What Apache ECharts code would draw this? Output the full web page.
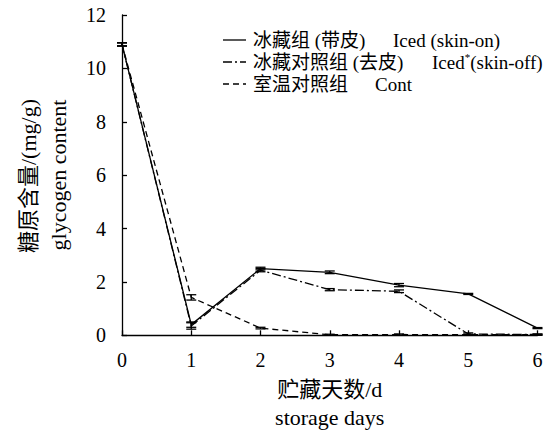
<!DOCTYPE html>
<html>
<head>
<meta charset="utf-8">
<script src="https://cdn.jsdelivr.net/npm/echarts@6/dist/echarts.min.js"></script>
<style>
  html, body { margin: 0; padding: 0; background: #fff; }
  #chart { width: 558px; height: 439px; }
</style>
</head>
<body>
<div id="chart"></div>
<script>
// Storage days on the x axis
const days = [0, 1, 2, 3, 4, 5, 6];
const yTicks = [0, 2, 4, 6, 8, 10, 12];

// Glycogen content (mg/g) per group, with standard errors
const icedSkinOn = [10.9, 0.4, 2.5, 2.36, 1.88, 1.55, 0.27];
const icedSkinOnErr = [0.06, 0.1, 0.05, 0.05, 0.06, 0.02, 0.02];
const icedSkinOff = [10.9, 0.35, 2.44, 1.71, 1.65, 0.05, 0.03];
const icedSkinOffErr = [0.06, 0.12, 0.06, 0.04, 0.05, 0.04, 0.02];
const roomTemp = [10.9, 1.42, 0.27, 0.02, 0.03, 0.02, 0.02];
const roomTempErr = [0.06, 0.1, 0.03, 0.02, 0.02, 0.02, 0.02];

// Legend rows: Chinese label, English label (rich text, * is a superscript)
const legendCn = ['冰藏组 (带皮)', '冰藏对照组 (去皮)', '室温对照组'];
const legendEn = ['{a|Iced (skin-on)}', '{a|Iced}{s|*}{a|(skin-off)}', '{a|Cont}'];

const SERIF = '"Liberation Serif", "Times New Roman", "Noto Sans CJK SC", serif';
const dashDot = [9, 3, 2, 3];
const dashed = [6, 4];

function pairs(vals) { return days.map((d, i) => [d, vals[i]]); }
function errData(vals, errs) { return days.map((d, i) => [d, vals[i] - errs[i], vals[i] + errs[i]]); }

function errorBarSeries(vals, errs) {
  return {
    type: 'custom',
    data: errData(vals, errs),
    z: 5,
    silent: true,
    renderItem: function (params, api) {
      const x = api.value(0);
      const lo = api.coord([x, api.value(1)]);
      const hi = api.coord([x, api.value(2)]);
      const hw = 5;
      const st = { stroke: '#000', lineWidth: 1.3, fill: null };
      return {
        type: 'group',
        children: [
          { type: 'line', shape: { x1: lo[0], y1: lo[1], x2: hi[0], y2: hi[1] }, style: st },
          { type: 'line', shape: { x1: lo[0] - hw, y1: lo[1], x2: lo[0] + hw, y2: lo[1] }, style: st },
          { type: 'line', shape: { x1: hi[0] - hw, y1: hi[1], x2: hi[0] + hw, y2: hi[1] }, style: st }
        ]
      };
    }
  };
}

function lineSeries(name, vals, type) {
  return {
    name: name,
    type: 'line',
    data: pairs(vals),
    symbol: 'none',
    silent: true,
    lineStyle: { color: '#000', width: 1.3, type: type }
  };
}

// Legend drawn as line samples plus two-part labels
const legendRowsY = [40, 62, 84];
const legendStyles = ['solid', dashDot, dashed];
const enX = [393, 432, 375];
const graphics = [];
legendRowsY.forEach((y, i) => {
  graphics.push({
    type: 'line',
    shape: { x1: 223, y1: y, x2: 246, y2: y },
    style: { stroke: '#000', lineWidth: 1.3, lineDash: legendStyles[i] === 'solid' ? null : legendStyles[i] }
  });
  graphics.push({
    type: 'text', x: 253, y: y,
    style: { text: legendCn[i], font: '19px ' + SERIF, fill: '#000', verticalAlign: 'middle', align: 'left' }
  });
  graphics.push({
    type: 'text', x: enX[i], y: y,
    style: {
      text: legendEn[i], verticalAlign: 'middle', align: 'left',
      rich: {
        a: { fontSize: 19, fontFamily: SERIF, fill: '#000', lineHeight: 22 },
        s: { fontSize: 11, fontFamily: SERIF, fill: '#000', lineHeight: 22, verticalAlign: 'top' }
      }
    }
  });
});

// Two-line rotated y-axis title
graphics.push({
  type: 'text', x: 28, y: 176, rotation: Math.PI / 2,
  style: { text: '糖原含量/(mg/g)', font: '22px ' + SERIF, fill: '#000', align: 'center', verticalAlign: 'middle' }
});
graphics.push({
  type: 'text', x: 58, y: 175, rotation: Math.PI / 2,
  style: { text: 'glycogen content', font: '22px ' + SERIF, fill: '#000', align: 'center', verticalAlign: 'middle' }
});

const chart = echarts.init(document.getElementById('chart'), null, { renderer: 'svg' });
chart.setOption({
  animation: false,
  backgroundColor: '#fff',
  grid: { left: 122, right: 20.5, top: 15, bottom: 103.7 },
  xAxis: {
    type: 'value',
    min: days[0],
    max: days[days.length - 1],
    interval: 1,
    splitLine: { show: false },
    axisLine: { lineStyle: { color: '#000', width: 1.3 } },
    axisTick: { inside: true, length: 5, lineStyle: { color: '#000', width: 1.3 } },
    axisLabel: { color: '#000', fontSize: 20, fontFamily: SERIF, margin: 15 },
    name: '贮藏天数/d\nstorage days',
    nameLocation: 'middle',
    nameGap: 33,
    nameTextStyle: { color: '#000', fontSize: 22, fontFamily: SERIF, lineHeight: 28 }
  },
  yAxis: {
    type: 'value',
    min: yTicks[0],
    max: yTicks[yTicks.length - 1],
    interval: 2,
    splitLine: { show: false },
    axisLine: { show: true, lineStyle: { color: '#000', width: 1.3 } },
    axisTick: { show: true, inside: true, length: 5, lineStyle: { color: '#000', width: 1.3 } },
    axisLabel: { color: '#000', fontSize: 20, fontFamily: SERIF, margin: 16 }
  },
  graphic: graphics,
  series: [
    lineSeries('冰藏组 (带皮)', icedSkinOn, 'solid'),
    lineSeries('冰藏对照组 (去皮)', icedSkinOff, dashDot),
    lineSeries('室温对照组', roomTemp, dashed),
    errorBarSeries(icedSkinOn, icedSkinOnErr),
    errorBarSeries(icedSkinOff, icedSkinOffErr),
    errorBarSeries(roomTemp, roomTempErr)
  ]
});
</script>
</body>
</html>
